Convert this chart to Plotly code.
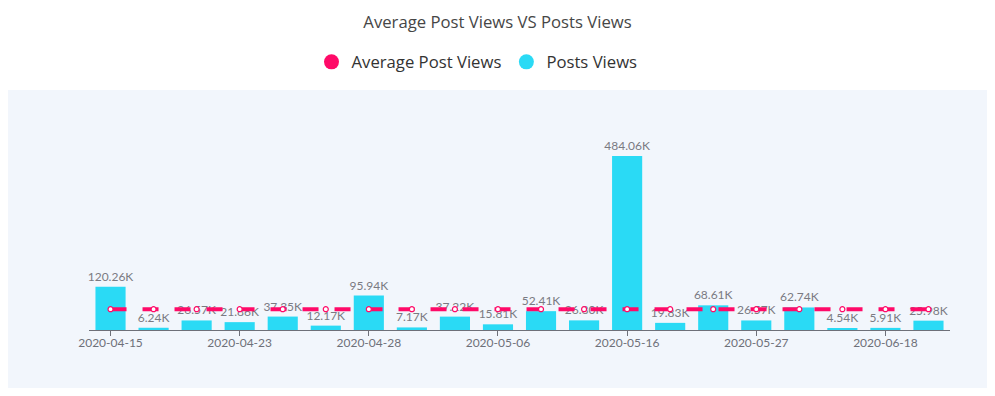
import plotly.graph_objects as go

dates = ["2020-04-15", "2020-04-18", "2020-04-21", "2020-04-23", "2020-04-25",
         "2020-04-26", "2020-04-28", "2020-05-01", "2020-05-03", "2020-05-06",
         "2020-05-09", "2020-05-12", "2020-05-16", "2020-05-20", "2020-05-23",
         "2020-05-27", "2020-06-02", "2020-06-10", "2020-06-18", "2020-06-24"]
posts_views_k = [120.26, 6.24, 26.57, 21.86, 37.35, 12.17, 95.94, 7.17, 37.22, 15.81,
                 52.41, 26.80, 484.06, 19.83, 68.61, 26.57, 62.74, 4.54, 5.91, 25.98]
avg_post_views_k = [57.90, 57.90, 57.90, 57.90, 57.90, 57.90, 57.90, 57.90, 57.90, 57.90,
                    57.90, 57.90, 57.90, 57.90, 57.90, 57.90, 57.90, 57.90, 57.90, 57.90]
tick_labels = ["2020-04-15", "2020-04-23", "2020-04-28", "2020-05-06",
               "2020-05-16", "2020-05-27", "2020-06-18"]

PINK = "#FF0A68"
CYAN = "#2ADAF5"
GREY = "#6E7079"
FONT = "Lato"
HFONT = "Open Sans"

# page body has an 8px margin; figure coordinates = reference pixels - 8
W, H = 979, 380
ml, mr, mt, mb = 81, 37, 92, 58
pw, ph = W - ml - mr, H - mt - mb

fig = go.Figure()
fig.add_trace(go.Bar(
    x=dates, y=posts_views_k, name="Posts Views",
    marker=dict(color=CYAN, line=dict(width=0)),
    text=[f"{v:.2f}K" for v in posts_views_k], textposition="outside",
    constraintext="none",
    textfont=dict(color="#7A7A82", size=12, family=FONT),
    cliponaxis=False, showlegend=False,
))
fig.add_trace(go.Scatter(
    x=dates, y=avg_post_views_k, name="Average Post Views", mode="lines+markers",
    line=dict(color=PINK, width=4, dash="16px,16px"),
    marker=dict(symbol="circle", size=5, color="white", line=dict(color=PINK, width=1.2)),
    showlegend=False, cliponaxis=False,
))
# legend entries
fig.add_trace(go.Scatter(x=[None], y=[None], mode="markers", name="Average Post Views",
                         marker=dict(symbol="circle", size=15, color=PINK)))
fig.add_trace(go.Scatter(x=[None], y=[None], mode="markers", name="Posts Views",
                         marker=dict(symbol="circle", size=15, color=CYAN)))

fig.add_shape(type="rect", xref="paper", yref="paper", layer="below",
              x0=(0 - ml) / pw, x1=(980 - ml) / pw,
              y0=(H - mb - 382) / ph, y1=(H - mb - 82) / ph,
              fillcolor="#F2F6FC", line=dict(width=0))

fig.update_layout(
    width=W, height=H,
    margin=dict(l=ml, r=mr, t=mt, b=mb),
    paper_bgcolor="white", plot_bgcolor="rgba(0,0,0,0)",
    font=dict(family=FONT, color="#333333"),
    title=dict(text="Average Post Views VS Posts Views", x=0.5, xref="container",
               xanchor="center", y=1 - 14 / H, yref="container", yanchor="middle",
               font=dict(size=16.7, color="#464646", family=HFONT)),
    legend=dict(orientation="h", x=469 / W, xref="container", xanchor="center",
                y=1 - 54 / H, yref="container", yanchor="middle",
                font=dict(size=16.7, color="#333333", family=HFONT),
                itemwidth=30, bgcolor="rgba(0,0,0,0)"),
    bargap=0.3,
    xaxis=dict(type="category", tickmode="array", tickvals=tick_labels, ticktext=tick_labels,
               range=[-0.5, len(dates) - 0.5], autorange=False,
               showgrid=False, showline=True, linecolor=GREY, linewidth=1,
               ticks="outside", ticklen=5, tickcolor=GREY, ticklabelstandoff=-3,
               tickfont=dict(color=GREY, size=12, family=FONT), zeroline=False),
    yaxis=dict(range=[0, ph / (174 / 484.06)], showgrid=False, showticklabels=False,
               zeroline=False, showline=False),
)

fig.write_html("out.html")
